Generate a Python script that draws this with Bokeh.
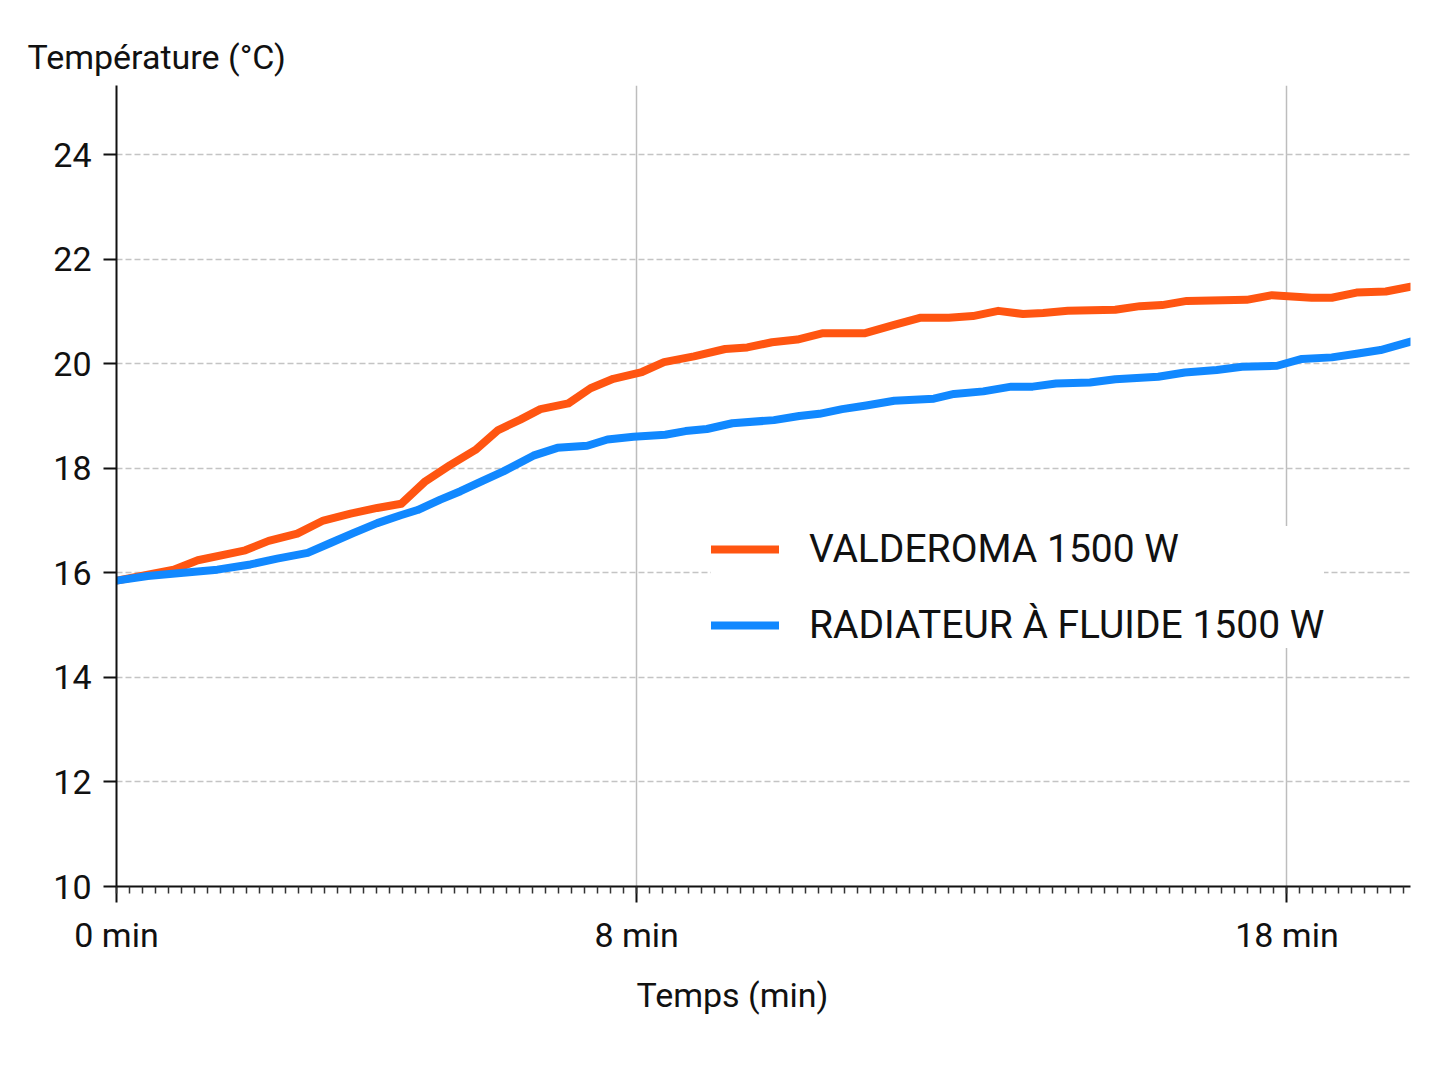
from bokeh.plotting import figure
from bokeh.models import FixedTicker, Range1d, Legend, Title
from bokeh.embed import file_html
from bokeh.resources import INLINE

# ---- data ----
valderoma_t = [0.00, 0.88, 1.25, 1.98, 2.34, 2.78, 3.18, 3.60, 4.01, 4.38, 4.75, 5.13,
               5.52, 5.87, 6.21, 6.52, 6.95, 7.29, 7.64, 8.08, 8.42, 8.88, 9.36, 9.70,
               10.08, 10.47, 10.85, 11.50, 11.96, 12.37, 12.80, 13.17, 13.56, 13.94,
               14.25, 14.63, 15.36, 15.74, 16.08, 16.46, 17.38, 17.77, 18.38, 18.69,
               19.07, 19.52, 19.90]
valderoma_temp = [15.85, 16.06, 16.24, 16.43, 16.61, 16.75, 17.00, 17.13, 17.24, 17.32,
                  17.75, 18.06, 18.35, 18.73, 18.93, 19.13, 19.24, 19.53, 19.71, 19.84,
                  20.03, 20.14, 20.28, 20.31, 20.41, 20.46, 20.58, 20.58, 20.74, 20.88,
                  20.88, 20.91, 21.01, 20.95, 20.97, 21.01, 21.03, 21.10, 21.12, 21.20,
                  21.22, 21.31, 21.26, 21.26, 21.36, 21.38, 21.47]

fluide_t = [0.00, 0.48, 1.03, 1.55, 2.06, 2.47, 2.94, 3.29, 3.64, 4.01, 4.37, 4.63, 4.98,
            5.29, 5.63, 5.95, 6.41, 6.78, 7.24, 7.55, 7.95, 8.44, 8.75, 9.08, 9.47, 10.11,
            10.50, 10.81, 11.16, 11.53, 11.96, 12.57, 12.88, 13.33, 13.76, 14.09, 14.45,
            14.97, 15.36, 16.02, 16.43, 16.92, 17.31, 17.85, 18.23, 18.69, 19.07, 19.44,
            19.90]
fluide_temp = [15.85, 15.94, 16.00, 16.06, 16.16, 16.27, 16.38, 16.57, 16.76, 16.95, 17.10,
               17.20, 17.40, 17.56, 17.76, 17.94, 18.24, 18.39, 18.43, 18.55, 18.60, 18.64,
               18.71, 18.75, 18.86, 18.92, 19.00, 19.04, 19.13, 19.20, 19.29, 19.33, 19.42,
               19.47, 19.56, 19.56, 19.62, 19.64, 19.70, 19.75, 19.83, 19.88, 19.94, 19.96,
               20.09, 20.12, 20.19, 20.26, 20.42]

series_names = ["VALDEROMA 1500 W", "RADIATEUR À FLUIDE 1500 W"]
y_ticks = [10, 12, 14, 16, 18, 20, 22, 24]
x_ticks = [0, 8, 18]
x_tick_labels = ["0 min", "8 min", "18 min"]
y_title = "Température (°C)"
x_title = "Temps (min)"

FONT = "Roboto"
TXT = "#111111"
ORANGE = "#ff5511"
BLUE = "#1188ff"

p = figure(width=1432, height=1070,
           x_range=Range1d(0, 19.9), y_range=Range1d(10, 25.32),
           output_backend="svg", toolbar_location=None,
           min_border_left=116, min_border_right=22,
           min_border_top=85, min_border_bottom=184)
p.outline_line_color = None
p.background_fill_color = "white"

# axes
minor = [round(0.2 * i, 1) for i in range(0, 100)]
p.xaxis.ticker = FixedTicker(ticks=x_ticks, minor_ticks=minor)
p.xaxis.major_label_overrides = {t: l for t, l in zip(x_ticks, x_tick_labels)}
p.yaxis.ticker = FixedTicker(ticks=y_ticks)
for ax in (p.xaxis, p.yaxis):
    ax.axis_line_color = "#111111"
    ax.axis_line_width = 2
    ax.major_tick_line_color = "#111111"
    ax.major_tick_line_width = 2
    ax.major_tick_in = 0
    ax.major_label_text_font = FONT
    ax.major_label_text_font_size = "34px"
    ax.major_label_text_color = TXT
p.xaxis.major_tick_out = 16
p.xaxis.minor_tick_out = 7
p.xaxis.minor_tick_in = 0
p.xaxis.minor_tick_line_color = "#333333"
p.xaxis.minor_tick_line_width = 1.5
p.xaxis.major_label_standoff = 12
p.yaxis.major_tick_out = 13
p.yaxis.minor_tick_line_color = None
p.yaxis.major_label_standoff = 12

# grids
p.xgrid.ticker = FixedTicker(ticks=[8, 18])
p.xgrid.grid_line_color = "#bdbdbd"
p.xgrid.grid_line_width = 1.5
p.ygrid.ticker = FixedTicker(ticks=y_ticks[1:])
p.ygrid.grid_line_color = "#c4c4c4"
p.ygrid.grid_line_width = 1.5
p.ygrid.grid_line_dash = "6 3"

# lines
r1 = p.line(valderoma_t, valderoma_temp, line_color=ORANGE, line_width=8, line_join="round", line_cap="round")
r2 = p.line(fluide_t, fluide_temp, line_color=BLUE, line_width=8, line_join="round", line_cap="round")

legend = Legend(items=[(series_names[0], [r1]), (series_names[1], [r2])],
                location=(595, 238))
legend.label_text_font = FONT
legend.label_text_font_size = "39px"
legend.label_text_color = TXT
legend.glyph_width = 68
legend.glyph_height = 46
legend.label_height = 46
legend.spacing = 30
legend.padding = 15
legend.margin = 0
legend.label_standoff = 30
legend.border_line_color = None
legend.background_fill_color = "white"
legend.background_fill_alpha = 1.0
p.add_layout(legend)

# axis titles
p.title = Title(text=y_title, align="left", offset=-89, standoff=17,
                text_font=FONT, text_font_size="34px", text_color=TXT,
                text_font_style="normal")
p.add_layout(Title(text=x_title, align="left", offset=520, standoff=30,
                   text_font=FONT, text_font_size="34px", text_color=TXT,
                   text_font_style="normal"), "below")

open("out.html", "w").write(file_html(p, INLINE))
